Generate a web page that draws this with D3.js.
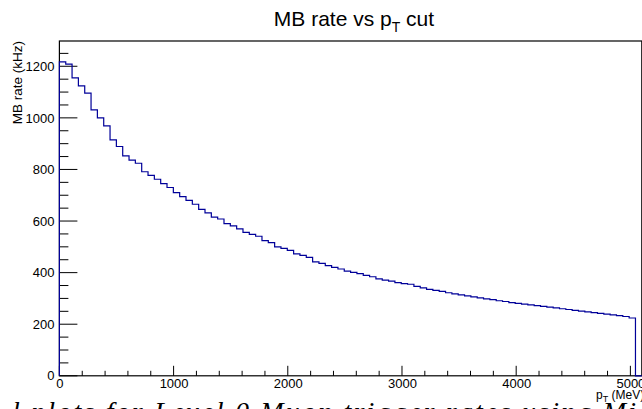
<!DOCTYPE html>
<html>
<head>
<meta charset="utf-8">
<script src="https://cdn.jsdelivr.net/npm/d3@7"></script>
<style>
  body { margin: 0; background: #fff; }
  svg { display: block; }
  text { font-family: "Liberation Sans", Arial, sans-serif; fill: #000; }
</style>
</head>
<body>
<svg id="chart" width="642" height="409"></svg>
<script>
/* data: MB rate (kHz) per pT-cut bin */
var binWidth = 5100 / 92;
var rates = [
  1217, 1208, 1155, 1124, 1096, 1031, 1000, 969, 915, 889,
  853, 836, 824, 791, 777, 762, 745, 730, 710, 695,
  680, 665, 645, 632, 615, 608, 590, 581, 570, 556,
  548, 541, 524, 516, 500, 494, 486, 473, 467, 459,
  442, 436, 427, 420, 414, 406, 401, 396, 389, 384,
  376, 371, 367, 361, 357, 355, 347, 341, 335, 331,
  327, 322, 318, 314, 310, 306, 302, 298, 295, 291,
  288, 284, 281, 278, 275, 272, 269, 266, 263, 260,
  257, 254, 251, 248, 245, 242, 239, 236, 233, 230,
  224
];
var xTicks = [0, 1000, 2000, 3000, 4000, 5000];
var yTicks = [0, 200, 400, 600, 800, 1000, 1200];

var svg = d3.select("svg#chart");

/* scales */
var x = d3.scaleLinear().domain([0, 5100]).range([59.4, 641.8]);
var y = d3.scaleLinear().domain([0, 1298]).range([375.8, 41]);

// frame
svg.append("rect")
  .attr("x", x(0)).attr("y", y(1298))
  .attr("width", x(5100) - x(0)).attr("height", y(0) - y(1298))
  .attr("fill", "none").attr("stroke", "#000").attr("stroke-width", 1.2);

// y axis labels + ticks (minor every 50)
var yAxis = d3.axisLeft(y).tickValues(yTicks).tickSize(0).tickPadding(5).tickFormat(d3.format("d"));
var gy = svg.append("g").attr("transform", `translate(${x(0)},0)`).call(yAxis);
gy.select(".domain").remove();
gy.selectAll("text").attr("font-size", 13).style("font-family", "Liberation Sans, Arial, sans-serif");

d3.range(0, 1298, 50).forEach(v => {
  var major = v % 200 === 0;
  svg.append("line")
    .attr("x1", x(0)).attr("x2", x(0) + (major ? 18 : 9))
    .attr("y1", y(v)).attr("y2", y(v))
    .attr("stroke", "#000").attr("stroke-width", 1);
});

// x axis labels + ticks (minor every 200)
var xAxis = d3.axisBottom(x).tickValues(xTicks).tickSize(0).tickPadding(3).tickFormat(d3.format("d"));
var gx = svg.append("g").attr("transform", `translate(0,${y(0)})`).call(xAxis);
gx.select(".domain").remove();
gx.selectAll("text").attr("font-size", 13).style("font-family", "Liberation Sans, Arial, sans-serif");

d3.range(0, 5100, 200).forEach(v => {
  var major = v % 1000 === 0;
  svg.append("line")
    .attr("x1", x(v)).attr("x2", x(v))
    .attr("y1", y(0)).attr("y2", y(0) - (major ? 10 : 5))
    .attr("stroke", "#000").attr("stroke-width", 1);
});

// histogram step line
var pts = [[0, 0]];
rates.forEach((r, i) => {
  pts.push([i * binWidth, r]);
  pts.push([(i + 1) * binWidth, r]);
});
pts.push([rates.length * binWidth, 0]);
pts.push([5100, 0]);

svg.append("path")
  .attr("d", d3.line().x(d => x(d[0])).y(d => y(d[1]))(pts))
  .attr("fill", "none")
  .attr("stroke", "#000099")
  .attr("stroke-width", 1.2);

// title
var title = svg.append("text")
  .attr("x", 354).attr("y", 26)
  .attr("text-anchor", "middle")
  .attr("font-size", 21);
title.append("tspan").text("MB rate vs p");
title.append("tspan").attr("font-size", 14).attr("dy", 6).text("T");
title.append("tspan").attr("dy", -6).text(" cut");

// y axis title
svg.append("text")
  .attr("transform", `translate(22,${y(1298)}) rotate(-90)`)
  .attr("text-anchor", "end")
  .attr("font-size", 13.5)
  .text("MB rate (kHz)");

// x axis title (runs past the right edge, as in the cropped original)
var xt = svg.append("text")
  .attr("x", 596).attr("y", 399)
  .attr("font-size", 12);
xt.append("tspan").text("p");
xt.append("tspan").attr("font-size", 9).attr("dy", 3).text("T");
xt.append("tspan").attr("dy", -3).text(" (MeV)");

// caption from the page below (clipped)
svg.append("text")
  .attr("x", 12).attr("y", 421)
  .attr("font-size", 28)
  .attr("textLength", 624)
  .attr("lengthAdjust", "spacing")
  .style("font-family", "Liberation Serif, serif")
  .style("font-style", "italic")
  .text("l plots for Level 0 Muon trigger rates using Mi");
</script>
</body>
</html>
